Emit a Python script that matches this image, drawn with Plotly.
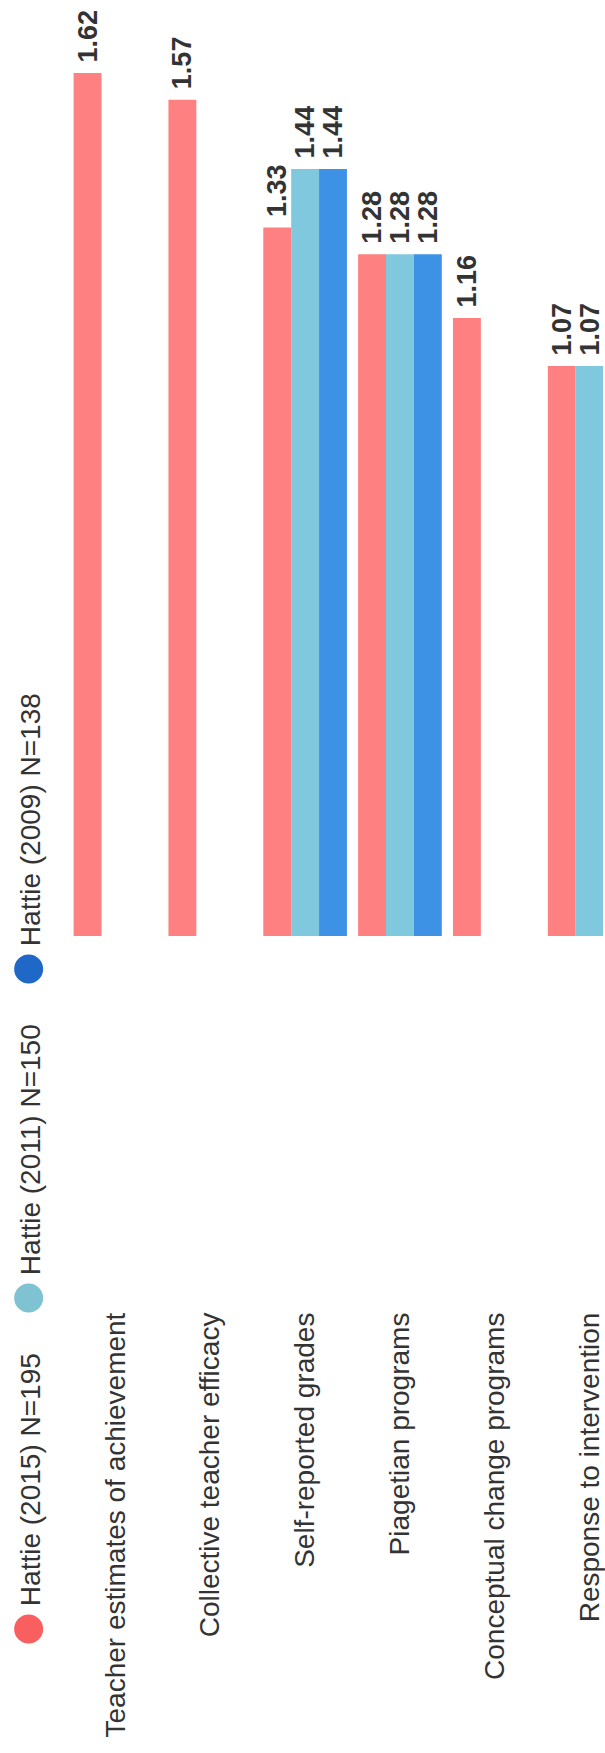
import plotly.graph_objects as go

categories = [
    "Teacher estimates of achievement",
    "Collective teacher efficacy",
    "Self-reported grades",
    "Piagetian programs",
    "Conceptual change programs",
    "Response to intervention",
]
hattie_2015 = [1.62, 1.57, 1.33, 1.28, 1.16, 1.07]
hattie_2011 = [None, None, 1.44, 1.28, None, 1.07]
hattie_2009 = [None, None, 1.44, 1.28, None, None]

series_names = ["Hattie (2015) N=195", "Hattie (2011) N=150", "Hattie (2009) N=138"]
bar_colors = ["#FF8080", "#80C8DE", "#3E92E6"]
legend_colors = ["#F95F5F", "#7FC2D2", "#1F68C7"]

FONT = "Liberation Sans, Arial, sans-serif"
TXT = "#333333"

W, H = 605, 1753
ML, MR, MT, MB = 68, 0, 0, 817
PW, PH = W - ML - MR, H - MT - MB


def lbl(vals):
    return ["" if v is None else "\u00a0" + f"{v:.2f}" for v in vals]


fig = go.Figure()
for name, vals, col in zip(series_names, [hattie_2015, hattie_2011, hattie_2009], bar_colors):
    fig.add_trace(go.Bar(
        x=categories, y=vals, name=name,
        marker=dict(color=col, line=dict(width=0)),
        text=lbl(vals), textposition="outside", textangle=-90,
        textfont=dict(family=FONT, size=27, color=TXT, weight="bold"),
        constraintext="none", cliponaxis=False, showlegend=False,
    ))

# rotated legend drawn as text + circles
legend_cy = [1629, 1298, 969]
for name, col, cy in zip(series_names, legend_colors, legend_cy):
    px = (28.5 - ML) / PW
    py = (MT + PH - cy) / PH
    fig.add_shape(type="circle", xref="paper", yref="paper",
                  xsizemode="pixel", ysizemode="pixel",
                  xanchor=px, yanchor=py, x0=-14.5, x1=14.5, y0=-14.5, y1=14.5,
                  fillcolor=col, line=dict(width=0))
    fig.add_annotation(xref="paper", yref="paper",
                       x=(30 - ML) / PW, y=(MT + PH - (cy - 21.5)) / PH,
                       xanchor="center", yanchor="bottom", textangle=-90,
                       text=name, showarrow=False, borderpad=0,
                       font=dict(family=FONT, size=28, color=TXT))

fig.update_layout(
    width=W, height=H,
    margin=dict(l=ML, r=MR, t=MT, b=MB, pad=0),
    paper_bgcolor="white", plot_bgcolor="white",
    barmode="group", bargap=0.118, bargroupgap=0,
    font=dict(family=FONT, color=TXT),
    xaxis=dict(range=[-0.5, -0.5 + PW / 95.2], showgrid=False, zeroline=False,
               showline=False, ticks="", tickangle=-90,
               ticklabelstandoff=370,
               tickfont=dict(family=FONT, size=28, color=TXT)),
    yaxis=dict(range=[0, PH / 532.7], visible=False, showgrid=False, zeroline=False),
)

fig.write_html("out.html")
